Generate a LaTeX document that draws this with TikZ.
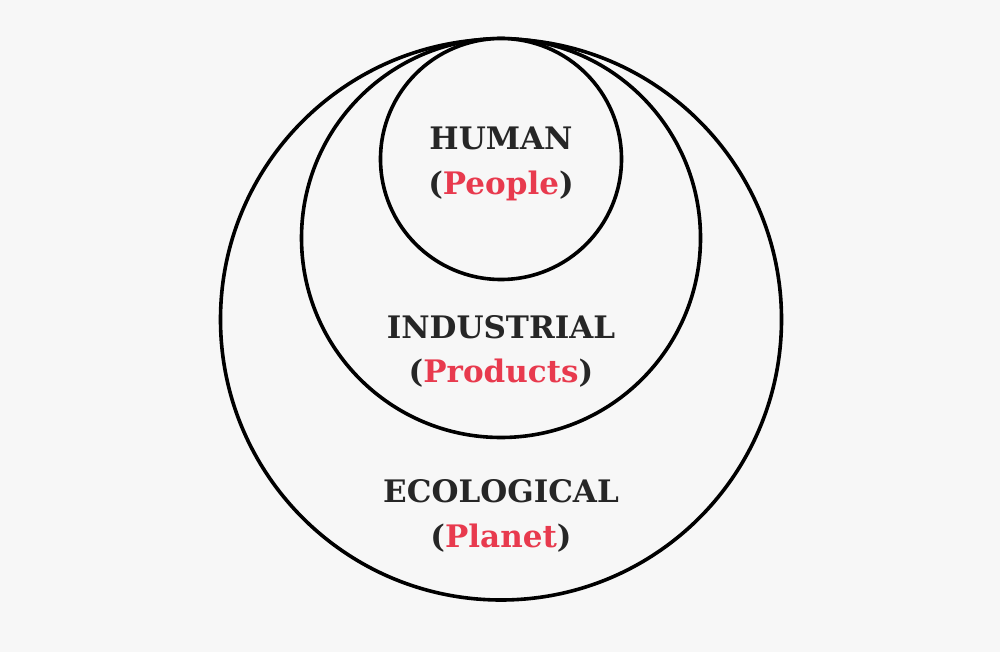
\documentclass[tikz,border=0pt]{standalone}
\usepackage{fontspec}
\setmainfont{DejaVu Serif}
\definecolor{bg}{HTML}{F7F7F7}
\definecolor{ink}{HTML}{262626}
\definecolor{accent}{HTML}{E83A4E}
\tikzset{
  ring/.style={draw=black, line width=3.6pt, fill=bg},
  title/.style={text=ink, font=\bfseries\fontsize{31}{31}\selectfont, inner sep=0pt, anchor=base},
}
\begin{document}
\begin{tikzpicture}[x=1pt,y=-1pt]
\fill[bg] (0,0) rectangle (1000,652);
\useasboundingbox (0,0) rectangle (1000,652);
\draw[ring] (501,319.5) circle[radius=280.5];
\draw[ring] (501,238) circle[radius=199.5];
\draw[ring] (501,159) circle[radius=120.5];
\node[title] (human) at (501,150) {HUMAN};
\node[title] (people) at (501,195) {(\textcolor{accent}{People})};
\node[title] (industrial) at (501,338) {INDUSTRIAL};
\node[title] (products) at (501,382) {(\textcolor{accent}{Products})};
\node[title] (ecological) at (501,502) {ECOLOGICAL};
\node[title] (planet) at (501,547) {(\textcolor{accent}{Planet})};
\end{tikzpicture}
\end{document}
